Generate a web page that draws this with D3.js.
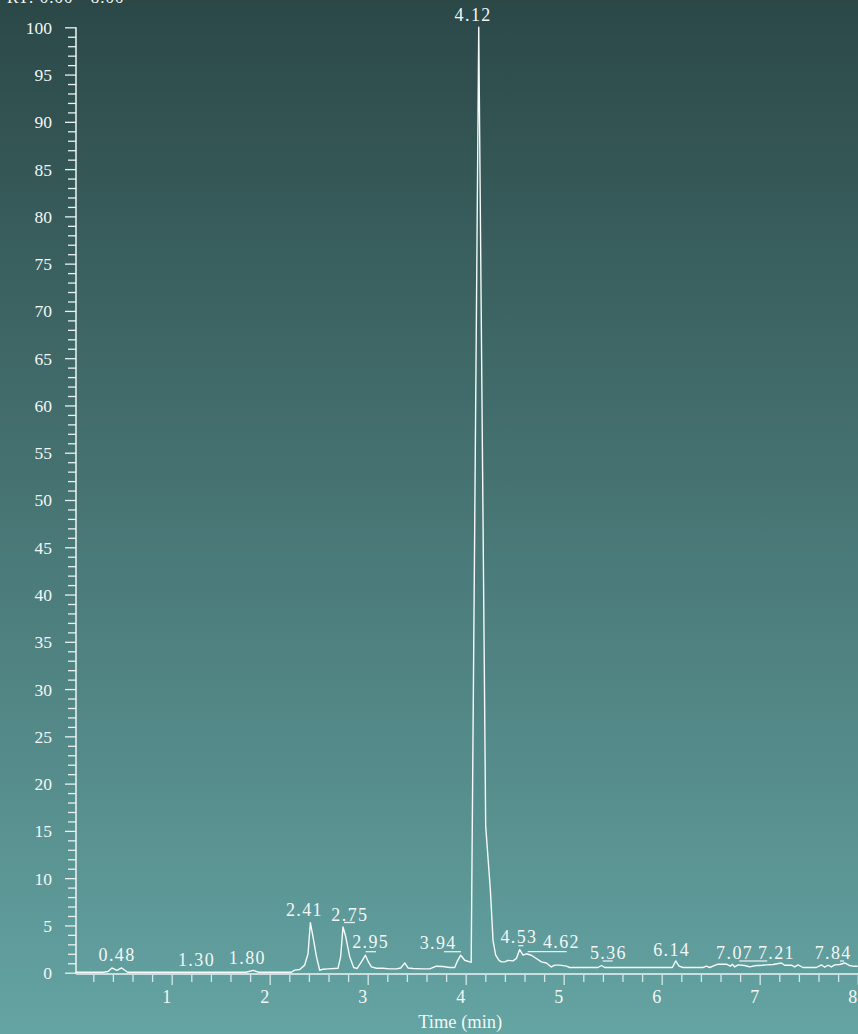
<!DOCTYPE html>
<html><head><meta charset="utf-8">
<script src="https://cdn.jsdelivr.net/npm/d3@7"></script>
<style>html,body{margin:0;padding:0;overflow:hidden}svg{display:block}
svg text{font-family:"Liberation Serif","Times New Roman",Times,serif !important;}</style>
</head><body><svg id="c" width="858" height="1034"></svg>
<script>
// ---- data ----
const rtMin = [0.02,0.30,0.35,0.39,0.44,0.49,0.55,1.76,1.83,1.89,2.22,2.255,2.306,2.357,2.391,2.415,2.442,2.477,2.510,2.544,2.595,2.697,2.724,2.748,2.776,2.816,2.857,2.891,2.936,2.977,3.007,3.038,3.089,3.156,3.224,3.293,3.337,3.378,3.411,3.462,3.564,3.633,3.701,3.768,3.837,3.888,3.911,3.949,3.990,4.041,4.056,4.133,4.204,4.252,4.279,4.306,4.340,4.364,4.398,4.432,4.483,4.517,4.551,4.585,4.619,4.670,4.721,4.772,4.823,4.874,4.908,4.959,5.028,5.061,5.350,5.385,5.418,6.109,6.143,6.177,6.217,6.421,6.456,6.490,6.523,6.574,6.660,6.701,6.721,6.745,6.779,6.847,6.898,6.966,7.000,7.068,7.136,7.221,7.255,7.324,7.357,7.391,7.442,7.579,7.630,7.663,7.697,7.732,7.765,7.816,7.867,7.918,7.952,8.00];
const relAbundance = [0.05,0.05,0.12,0.5,0.25,0.5,0.05,0.05,0.25,0.05,0.05,0.27,0.34,0.8,2.0,5.3,3.8,1.7,0.26,0.37,0.4,0.47,1.7,4.85,3.8,1.7,0.55,0.44,1.14,1.85,1.14,0.61,0.47,0.47,0.40,0.40,0.5,1.03,0.5,0.44,0.40,0.40,0.69,0.66,0.55,0.55,1.14,1.85,1.32,1.14,1.1,100,15.5,8.7,3.4,1.85,1.3,1.14,1.14,1.3,1.25,1.5,2.45,1.85,2.0,1.85,1.5,1.14,1.03,0.61,0.8,0.8,0.69,0.55,0.55,0.76,0.55,0.55,1.25,0.69,0.55,0.55,0.69,0.55,0.69,0.9,0.9,0.69,0.9,0.61,0.83,0.76,0.61,0.76,0.76,0.83,0.87,1.03,0.79,0.79,0.61,0.83,0.55,0.55,0.83,0.58,0.79,0.61,0.83,0.87,1.03,0.76,0.69,0.69];
const peakRT = [0.48,1.30,1.80,2.41,2.75,2.95,3.94,4.12,4.53,4.62,5.36,6.14,7.07,7.21,7.84];
const peakLabels = ["0.48","1.30","1.80","2.41","2.75","2.95","3.94","4.12","4.53","4.62","5.36","6.14","7.07","7.21","7.84"];
const xMajorTicks = [1,2,3,4,5,6,7,8];
const xMinorTicks = [0.2,0.4,0.6,0.8,1.2,1.4,1.6,1.8,2.2,2.4,2.6,2.8,3.2,3.4,3.6,3.8,4.2,4.4,4.6,4.8,5.2,5.4,5.6,5.8,6.2,6.4,6.6,6.8,7.2,7.4,7.6,7.8];
const yMajorTicks = [0,5,10,15,20,25,30,35,40,45,50,55,60,65,70,75,80,85,90,95,100];
const yMinorTicks = d3.range(0,101).filter(v => v % 5 !== 0);
const rangeText = "RT: 0.00 - 8.00";
const xTitle = "Time (min)";

// ---- layout (pixels) ----
const labelDx = [-4.4,-5.3,-3.4,-6.1,6,7.2,-22.3,-5,0.6,34.3,8.8,-4.4,-32.6,-4.5,-9.5];
const labelY  = [961,966,964.3,916,920.7,948.3,948.7,20.7,943.3,948.3,959,956,959.3,959,959.3];
const leaders = [ // [label index, x1 rel, x2 rel, y]
  [4,0.8,11.8,922.5],[5,2.9,13.2,951.7],[6,-15.8,1.2,951.7],[8,0.7,5.7,945.7],
  [9,1.2,40.2,951.7],[10,3.7,13.7,961],[12,-27.3,0.7,961],[14,-2,2,961]];

const W = 858, H = 1034;
const svg = d3.select("#c");

const defs = svg.append("defs");
const grad = defs.append("linearGradient").attr("id","bg").attr("x1",0).attr("y1",0).attr("x2",0).attr("y2",1);
grad.append("stop").attr("offset","0%").attr("stop-color","#2b4847");
grad.append("stop").attr("offset","100%").attr("stop-color","#64a4a3");
svg.append("rect").attr("width",W).attr("height",H).attr("fill","url(#bg)");

const x = d3.scaleLinear().domain([0,8]).range([73.7,857.7]);
const y = d3.scaleLinear().domain([0,100]).range([972.7,27.3]);
const axisX0 = 76;

// y axis
const yMajor = d3.axisLeft(y).tickValues(yMajorTicks).tickSize(11).tickPadding(13).tickFormat(d3.format("d"));
const yMinor = d3.axisLeft(y).tickValues(yMinorTicks).tickSize(8).tickFormat("");
const gyMinor = svg.append("g").attr("transform",`translate(${axisX0},0)`).call(yMinor);
const gyMajor = svg.append("g").attr("transform",`translate(${axisX0},0)`).call(yMajor);
[gyMinor,gyMajor].forEach(g=>{
  g.attr("font-family",null).attr("font-size",null);
  g.select(".domain").remove();
  g.selectAll("line").attr("stroke","#e8f2f2").attr("stroke-width",1.3);
});
gyMajor.selectAll("text").attr("fill","#f2f7f7").style("font-size","17.5px").attr("dy","0.34em");
svg.append("line").attr("x1",axisX0).attr("x2",axisX0).attr("y1",y(100)).attr("y2",974)
  .attr("stroke","#eef6f6").attr("stroke-width",1.5);

// x axis
const xAxisY = 974;
const xMajor = d3.axisBottom(x).tickValues(xMajorTicks).tickSize(11).tickFormat(d3.format("d"));
const xMinor = d3.axisBottom(x).tickValues(xMinorTicks).tickSize(8).tickFormat("");
const gxMinor = svg.append("g").attr("transform",`translate(0,${xAxisY})`).call(xMinor);
const gxMajor = svg.append("g").attr("transform",`translate(0,${xAxisY})`).call(xMajor);
[gxMinor,gxMajor].forEach(g=>{
  g.attr("font-family",null).attr("font-size",null);
  g.select(".domain").remove();
  g.selectAll("line").attr("stroke","#d6e8e8").attr("stroke-width",1.3);
});
gxMajor.selectAll("text").attr("fill","#f2f7f7").style("font-size","18px")
  .attr("y",29.3).attr("dy",0).attr("dx",-5.5);
svg.append("line").attr("x1",axisX0).attr("x2",W).attr("y1",xAxisY).attr("y2",xAxisY)
  .attr("stroke","#c9dfdf").attr("stroke-width",2.2);

// trace
const pts = rtMin.map((t,i)=>[t,relAbundance[i]]);
svg.append("path").datum(pts)
  .attr("d", d3.line().x(d=>x(d[0])).y(d=>y(d[1])))
  .attr("fill","none").attr("stroke","#f6fafa").attr("stroke-width",1.4).attr("stroke-linejoin","round");

// peak labels
svg.append("g").selectAll("text").data(peakLabels).join("text")
  .attr("x",(d,i)=>x(peakRT[i])+labelDx[i]+0.7).attr("y",(d,i)=>labelY[i])
  .attr("text-anchor","middle").style("font-size","18px")
  .attr("letter-spacing","1.4px").attr("fill","#f2f7f7").text(d=>d);
svg.append("g").selectAll("line").data(leaders).join("line")
  .attr("x1",d=>x(peakRT[d[0]])+d[1]).attr("x2",d=>x(peakRT[d[0]])+d[2])
  .attr("y1",d=>d[3]).attr("y2",d=>d[3])
  .attr("stroke","#e4efef").attr("stroke-width",1.3);

// titles
svg.append("text").attr("x",x(4)-5.5).attr("y",1027.5).attr("text-anchor","middle")
  .style("font-size","18.5px").attr("fill","#f2f7f7").text(xTitle);
svg.append("text").attr("x",7).attr("y",3).style("font-size","17px")
  .attr("letter-spacing","1px").attr("fill","#f2f7f7").text(rangeText);
</script></body></html>
